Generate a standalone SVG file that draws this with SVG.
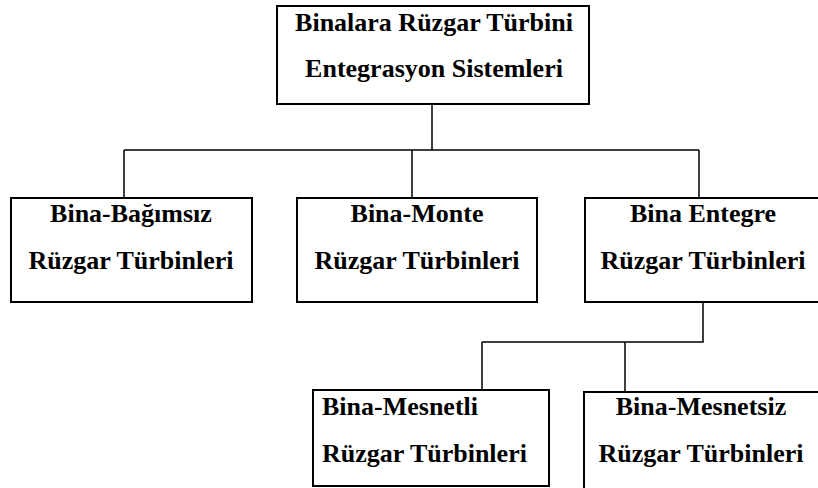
<svg xmlns="http://www.w3.org/2000/svg" width="818" height="488" viewBox="0 0 818 488">
  <style>
    .box { fill: #ffffff; stroke: #000000; stroke-width: 2; }
    .lbl { font-family: "Liberation Serif", "Times New Roman", serif; font-size: 26px; font-weight: bold; fill: #000000; }
    .mid { text-anchor: middle; }
    .conn { fill: none; stroke: #000000; stroke-width: 1.5; }
  </style>
  <rect width="818" height="488" fill="#ffffff"/>

  <!-- tree connectors -->
  <g id="connectors">
    <path class="conn" d="M432 104 V150 M124 150 H699 M124 150 V198 M412 150 V198 M699 150 V198"/>
    <path class="conn" d="M703 302 V342 H482 M482 342 V390 M625 342 V392"/>
  </g>

  <g id="root">
    <rect class="box" x="277" y="6" width="312" height="98"/>
    <text class="lbl mid" x="434" y="31">Binalara Rüzgar Türbini</text>
    <text class="lbl mid" x="434" y="77">Entegrasyon Sistemleri</text>
  </g>

  <g id="independent">
    <rect class="box" x="11" y="198" width="241" height="104"/>
    <text class="lbl mid" x="131" y="222">Bina-Bağımsız</text>
    <text class="lbl mid" x="131" y="269">Rüzgar Türbinleri</text>
  </g>

  <g id="mounted">
    <rect class="box" x="297" y="198" width="240" height="104"/>
    <text class="lbl mid" x="417" y="222">Bina-Monte</text>
    <text class="lbl mid" x="417" y="269">Rüzgar Türbinleri</text>
  </g>

  <g id="integrated">
    <rect class="box" x="585" y="198" width="240" height="104"/>
    <text class="lbl mid" x="703" y="222">Bina Entegre</text>
    <text class="lbl mid" x="703" y="269">Rüzgar Türbinleri</text>
  </g>

  <g id="supported">
    <rect class="box" x="313" y="390" width="236" height="96"/>
    <text class="lbl" x="322" y="415">Bina-Mesnetli</text>
    <text class="lbl" x="322" y="462">Rüzgar Türbinleri</text>
  </g>

  <g id="unsupported">
    <rect class="box" x="584" y="392" width="240" height="110"/>
    <text class="lbl mid" x="701" y="415">Bina-Mesnetsiz</text>
    <text class="lbl mid" x="701" y="462">Rüzgar Türbinleri</text>
  </g>
</svg>
